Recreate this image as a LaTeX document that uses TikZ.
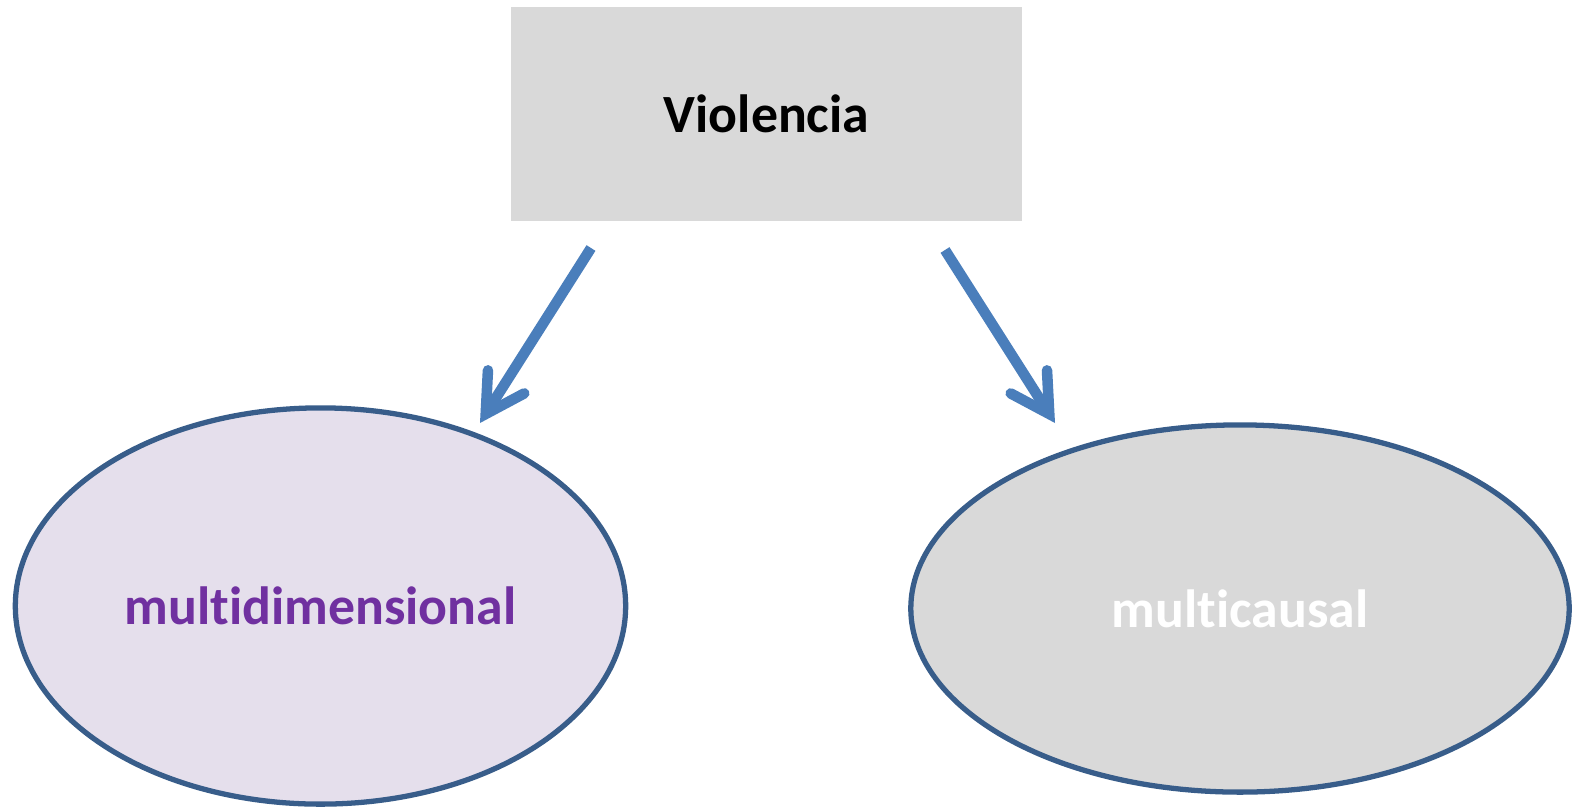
\documentclass[tikz,border=0pt]{standalone}
\usepackage{fontspec}
\setmainfont{Carlito}[Ligatures=NoCommon]
\usepackage{tikz}
\usetikzlibrary{arrows.meta,shapes,positioning}
\usepackage{xcolor}
\definecolor{vgray}{RGB}{217,217,217}
\definecolor{vlilac}{RGB}{229,223,236}
\definecolor{vblue}{RGB}{74,126,187}
\definecolor{vborder}{RGB}{56,93,138}
\definecolor{vpurple}{RGB}{112,48,160}
\tikzstyle{arrow} = [line width=3pt,-{Straight Barb[length=0.38cm,width=0.43cm,line cap=round,line join=miter]},color=vblue]
\tikzstyle{topbox} = [rectangle, minimum width=5.11cm, minimum height=2.14cm, fill=vgray, font=\fontsize{15.3}{18}\selectfont\bfseries]
\tikzstyle{bubble} = [ellipse, draw=vborder, line width=1.5pt, inner sep=0pt, font=\fontsize{15.3}{18}\selectfont\bfseries]

\begin{document}
\begin{tikzpicture}[x=0.01cm, y=-0.01cm]
    \useasboundingbox (0,0) rectangle (1578,808);
    % Nodes
    \node[topbox] (viol) at (766.5,114) {Violencia};
    \node[bubble, minimum width=6.1cm, minimum height=3.96cm, fill=vlilac, text=vpurple] (mdim) at (320.5,606) {multidimensional};
    \node[bubble, minimum width=6.58cm, minimum height=3.67cm, fill=vgray, text=white] (mcaus) at (1240,608.5) {multicausal};

    % Arrows
    \coordinate (ls) at (591,248);
    \coordinate (le) at (480,423);
    \coordinate (rs) at (945,250);
    \coordinate (re) at (1055,423);
    \draw[arrow] (ls) -- (le);
    \draw[arrow] (rs) -- (re);
\end{tikzpicture}
\end{document}
